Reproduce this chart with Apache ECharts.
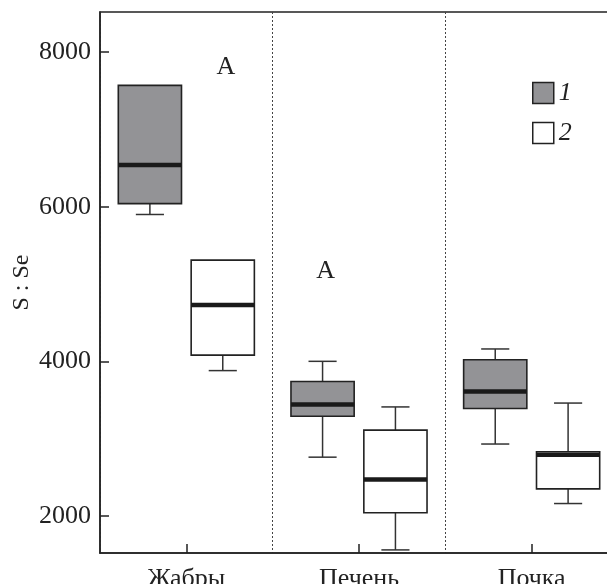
<!DOCTYPE html>
<html>
<head>
<meta charset="utf-8">
<script src="https://cdn.jsdelivr.net/npm/echarts@6/dist/echarts.min.js"></script>
<style>
  html, body { margin: 0; padding: 0; background: #fff; }
  #chart-container { width: 607px; height: 584px; }
</style>
</head>
<body>
<div id="chart-container"></div>
<script>
var categories = ["Жабры", "Печень", "Почка"];
var yTicks = [2000, 4000, 6000, 8000];
// [low, Q1, median, Q3, high] per category
var group1 = [
  [5900, 6040, 6540, 7570, 7570],
  [2760, 3290, 3440, 3740, 4000],
  [2930, 3390, 3610, 4020, 4160]
];
var group2 = [
  [3880, 4080, 4730, 5310, 5310],
  [1560, 2040, 2470, 3110, 3410],
  [2160, 2350, 2790, 2830, 3460]
];
// "A" marks: category, which box (0 / 1), value
var markCats = [0, 1];
var markGroup = [1, 0];
var markValues = [7810, 5170];

var serif = "Liberation Serif";
var dom = document.getElementById("chart-container");
var myChart = echarts.init(dom, null, { renderer: "canvas" });

function toData(arr) {
  return arr.map(function (d, i) { return [i].concat(d); });
}

function boxRenderer(side, fill) {
  return function (params, api) {
    var cat = api.value(0);
    var band = api.size([1, 0])[0];
    var cx = api.coord([cat, 0])[0] + side * band * 0.211;
    var w = band * 0.366;
    var cap = w * 0.445;
    var yLow = api.coord([cat, api.value(1)])[1];
    var yQ1 = api.coord([cat, api.value(2)])[1];
    var yMed = api.coord([cat, api.value(3)])[1];
    var yQ3 = api.coord([cat, api.value(4)])[1];
    var yHigh = api.coord([cat, api.value(5)])[1];
    var wStyle = { stroke: "#333", lineWidth: 1.5 };
    var children = [];
    if (yLow - yQ1 > 0.5) {
      children.push({ type: "line", shape: { x1: cx, y1: yQ1, x2: cx, y2: yLow }, style: wStyle });
      children.push({ type: "line", shape: { x1: cx - cap / 2, y1: yLow, x2: cx + cap / 2, y2: yLow }, style: wStyle });
    }
    if (yQ3 - yHigh > 0.5) {
      children.push({ type: "line", shape: { x1: cx, y1: yQ3, x2: cx, y2: yHigh }, style: wStyle });
      children.push({ type: "line", shape: { x1: cx - cap / 2, y1: yHigh, x2: cx + cap / 2, y2: yHigh }, style: wStyle });
    }
    children.push({
      type: "rect",
      shape: { x: cx - w / 2, y: yQ3, width: w, height: yQ1 - yQ3 },
      style: { fill: fill, stroke: "#222", lineWidth: 1.6 }
    });
    children.push({
      type: "line",
      shape: { x1: cx - w / 2, y1: yMed, x2: cx + w / 2, y2: yMed },
      style: { stroke: "#1a1a1a", lineWidth: 4.5 }
    });
    return { type: "group", children: children };
  };
}

var option = {
  animation: false,
  backgroundColor: "#fff",
  grid: {
    left: 100, top: 12, width: 518, bottom: 31,
    outerBoundsMode: "none",
    containLabel: false,
    show: true, borderColor: "#222", borderWidth: 1.5
  },
  legend: {
    orient: "vertical",
    left: 527,
    top: 75,
    itemWidth: 21,
    itemHeight: 21,
    itemGap: 14,
    textStyle: { fontFamily: serif, fontStyle: "italic", fontSize: 26, color: "#222" },
    data: [
      { name: "1", icon: "rect", itemStyle: { color: "#939396", borderColor: "#222", borderWidth: 1.5 } },
      { name: "2", icon: "rect", itemStyle: { color: "#fff", borderColor: "#222", borderWidth: 1.5 } }
    ]
  },
  xAxis: {
    type: "category",
    data: categories,
    boundaryGap: true,
    axisLine: { lineStyle: { color: "#222", width: 1.5 } },
    axisTick: { show: true, inside: true, alignWithLabel: true, length: 9, lineStyle: { color: "#222", width: 1.5 } },
    axisLabel: { fontFamily: serif, fontSize: 26, color: "#222", margin: 13 },
    splitLine: { show: true, lineStyle: { color: "#444", width: 1, type: [2, 2] } }
  },
  yAxis: {
    type: "value",
    min: 1520,
    max: 8520,
    name: "S : Se",
    nameLocation: "middle",
    nameRotate: 90,
    nameGap: 66,
    nameMoveOverlap: false,
    nameTextStyle: { fontFamily: serif, fontSize: 24, color: "#222" },
    axisLine: { show: true, lineStyle: { color: "#222", width: 1.5 } },
    axisTick: { show: true, inside: true, length: 9, customValues: yTicks, lineStyle: { color: "#222", width: 1.5 } },
    axisLabel: {
      fontFamily: serif, fontSize: 26, color: "#222", margin: 9, customValues: yTicks,
      formatter: function (v) { return String(v); }
    },
    splitLine: { show: false }
  },
  series: [
    {
      name: "1",
      type: "custom",
      itemStyle: { color: "#939396" },
      renderItem: boxRenderer(-1, "#939396"),
      encode: { x: 0, y: [1, 2, 3, 4, 5] },
      data: toData(group1)
    },
    {
      name: "2",
      type: "custom",
      itemStyle: { color: "#fff" },
      renderItem: boxRenderer(1, "#fff"),
      encode: { x: 0, y: [1, 2, 3, 4, 5] },
      data: toData(group2)
    },
    {
      name: "marks",
      type: "custom",
      silent: true,
      renderItem: function (params, api) {
        var cat = api.value(0);
        var band = api.size([1, 0])[0];
        var side = api.value(2) === 0 ? -1 : 1;
        var p = api.coord([cat, api.value(1)]);
        return {
          type: "text",
          style: {
            text: "A",
            x: p[0] + side * band * 0.211 + 3,
            y: p[1],
            align: "center",
            verticalAlign: "middle",
            font: "26px " + serif,
            fill: "#222"
          }
        };
      },
      encode: { x: 0, y: 1 },
      data: markCats.map(function (c, i) { return [c, markValues[i], markGroup[i]]; })
    }
  ]
};

myChart.setOption(option);
window.addEventListener("resize", myChart.resize);
</script>
</body>
</html>
